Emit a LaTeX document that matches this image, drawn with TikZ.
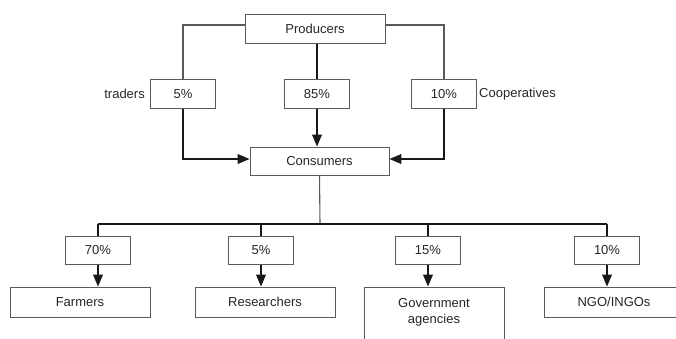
\documentclass[tikz,border=0pt]{standalone}
\usepackage{fontspec}
\setmainfont{Liberation Sans}
\usetikzlibrary{arrows}

\begin{document}
\begin{tikzpicture}[x=1pt,y=-1pt]
\tikzstyle{block} = [rectangle, draw=black!65, line width=1pt, fill=white,
text=black!85, align=center, font=\fontsize{13}{16}\selectfont, inner sep=0pt]
\tikzstyle{share} = [block, minimum width=65pt, minimum height=29pt]
\tikzstyle{group} = [block, minimum width=140pt, minimum height=30pt]
\tikzstyle{tag} = [text=black!85, font=\fontsize{13}{16}\selectfont, inner sep=4pt]
\tikzstyle{link} = [draw=black!65, line width=1.1pt]
\tikzstyle{line} = [draw=black!90, line width=1.8pt, -triangle 45];
\useasboundingbox (0,0) rectangle (676,338);
\clip (0,0) rectangle (676,338);
% top part
\node [group, minimum height=29pt] (prod) at (315,28.5) {Producers};
\node [share] (p5) at (183,94) {5\%};
\node [share] (p85) at (317,94) {85\%};
\node [share] (p10) at (444,94) {10\%};
\node [tag, anchor=east, inner sep=5pt] (trad) at (p5.west) {traders};
\node [tag, anchor=west, inner sep=2pt] (coop) at (p10.east) {Cooperatives};
\node [group, minimum width=139pt, minimum height=28pt] (cons) at (319.5,161) {Consumers};
% bottom part
\coordinate (bus) at (320,224);
\node [share, minimum height=28pt] (f70) at (98,250) {70\%};
\node [share, minimum height=28pt] (r5) at (261,250) {5\%};
\node [share, minimum height=28pt] (g15) at (428,250) {15\%};
\node [share, minimum height=28pt] (n10) at (607,250) {10\%};
\node [group] (farm) at (80,302) {Farmers};
\node [group] (res) at (265,302) {Researchers};
\node [group, minimum height=64pt] (gov) at (434,319) {Government\\agencies\\\mbox{}};
\node [group] (ngo) at (614,302) {NGO/INGOs};

\path [link] ([yshift=3.5pt]prod.west) -| (p5.north);
\path [link] ([yshift=3.5pt]prod.east) -| (p10.north);
\path [draw=black!90, line width=1.8pt] (prod.south -| p85) -- (p85.north);
\path [line] (p85.south) -- (p85.south |- cons.north);
\path [line] (p5.south) |- ([yshift=2pt]cons.west);
\path [line] (p10.south) |- ([yshift=2pt]cons.east);

\path [link] (cons.south) -- (bus);
\path [draw=black!90, line width=1.3pt] (f70.north |- bus) -- (n10.north |- bus);
\foreach \s in {f70,r5,g15,n10}
  \path [draw=black!90, line width=1.8pt] (\s.north |- bus) -- (\s.north);
\path [line] (f70.south) -- (f70.south |- farm.north);
\path [line] (r5.south) -- (r5.south |- res.north);
\path [line] (g15.south) -- (g15.south |- gov.north);
\path [line] (n10.south) -- (n10.south |- ngo.north);

\end{tikzpicture}
\end{document}
